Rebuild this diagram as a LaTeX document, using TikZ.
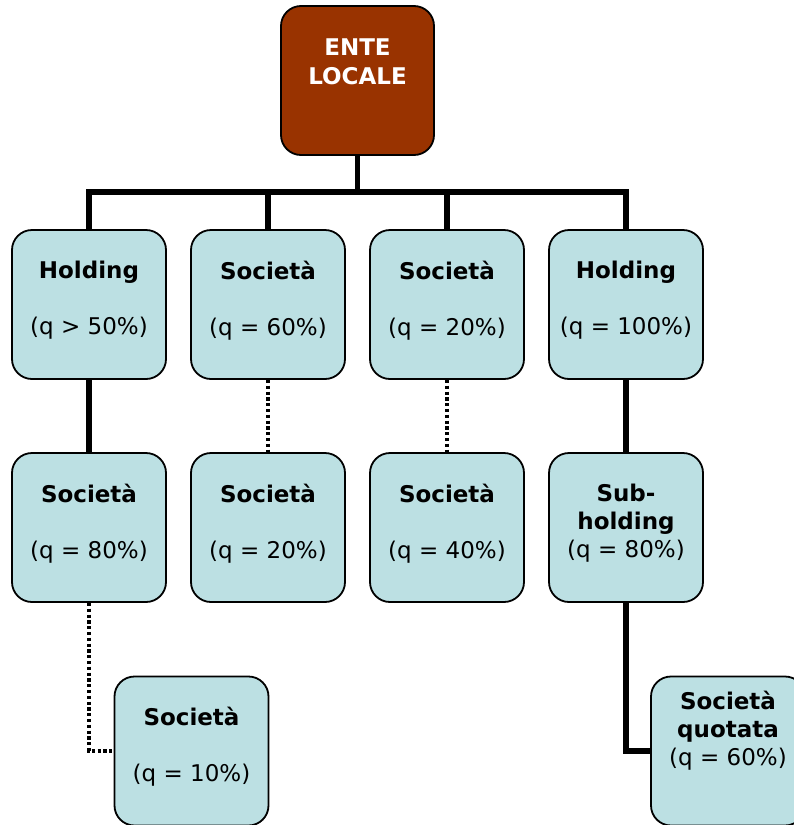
\documentclass[tikz,border=0pt]{standalone}
\usepackage{fontspec}
\setmainfont{DejaVu Sans}
\usetikzlibrary{positioning}

\definecolor{boxblue}{RGB}{188,224,227}
\definecolor{entebrown}{RGB}{153,51,0}

% small trailing line that lifts the text a little inside a box
\newcommand{\lift}{\\[-15pt]\mbox{}}

\begin{document}
\begin{tikzpicture}[
  x=1pt, y=-1pt,
  font=\fontsize{23}{28}\selectfont,
  unit/.style={draw=black, line width=1.8pt, rounded corners=20pt,
               fill=boxblue, minimum width=154pt, minimum height=149pt,
               inner sep=0pt, align=center},
  top/.style={unit, fill=entebrown, text=white, font=\fontsize{23}{29}\selectfont\bfseries,
              minimum width=153pt},
  link/.style={line width=5.4pt},
  weak/.style={line width=3.4pt, dash pattern=on 3.2pt off 2.6pt}
]
\useasboundingbox (0,0) rectangle (794,825);
\clip (0,0) rectangle (794,825);

% ---------------- ente ----------------
\node[top] (ente) at (357.5, 80.5) {ENTE\\LOCALE\\[8pt]\mbox{}};

% ---------------- first level ----------------
\node[unit] (hold1) at (89, 304.5) {\textbf{Holding}\\[28pt](q > 50\%)\lift};
\node[unit] (soc60) at (268, 304.5) {\textbf{Società}\\[28pt](q = 60\%)\lift};
\node[unit] (soc20) at (447, 304.5) {\textbf{Società}\\[28pt](q = 20\%)\lift};
\node[unit] (hold2) at (626, 304.5) {\textbf{Holding}\\[28pt](q = 100\%)\lift};

% ---------------- second level ----------------
\node[unit] (soc80) at (89, 527.5) {\textbf{Società}\\[28pt](q = 80\%)\lift};
\node[unit] (soc20b) at (268, 527.5) {\textbf{Società}\\[28pt](q = 20\%)\lift};
\node[unit] (soc40) at (447, 527.5) {\textbf{Società}\\[28pt](q = 40\%)\lift};
\node[unit] (sub) at (626, 527.5) {\textbf{Sub-}\\\textbf{holding}\\(q = 80\%)\lift};

% ---------------- third level ----------------
\node[unit] (soc10) at (191.5, 751) {\textbf{Società}\\[28pt](q = 10\%)\lift};
\node[unit] (quot) at (728, 751) {\textbf{Società}\\\textbf{quotata}\\(q = 60\%)\\[18pt]\mbox{}};

% ---------------- connectors ----------------
\coordinate (bus) at (357.5, 192);
\draw[link] (ente.south) -- (bus);
\draw[link] (bus) -| (hold1.north);
\draw[link] (bus) -| (soc60.north);
\draw[link] (bus) -| (soc20.north);
\draw[link] (bus) -| (hold2.north);

\draw[link] (hold1.south) -- (soc80.north);
\draw[weak] (soc60.south) -- (soc20b.north);
\draw[weak] (soc20.south) -- (soc40.north);
\draw[link] (hold2.south) -- (sub.north);

\draw[weak] (soc80.south) |- (soc10.west);
\draw[link] (sub.south) |- (quot.west);

\end{tikzpicture}
\end{document}
